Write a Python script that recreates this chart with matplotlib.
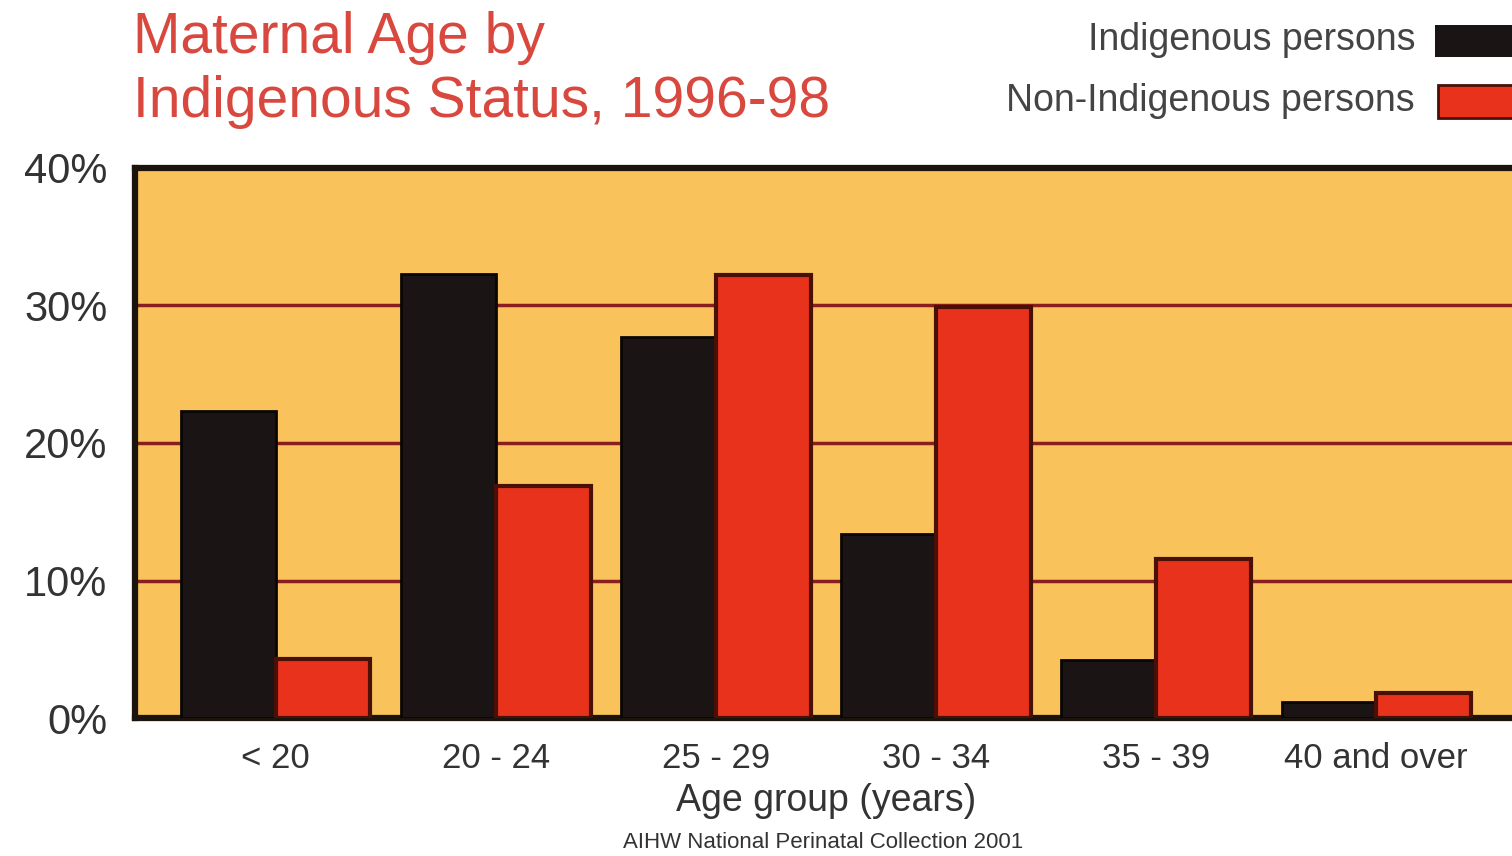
import matplotlib
matplotlib.use("Agg")
import matplotlib.pyplot as plt
import numpy as np
from matplotlib.patches import Rectangle

categories = ["< 20", "20 - 24", "25 - 29", "30 - 34", "35 - 39", "40 and over"]
indigenous = [22.3, 32.3, 27.7, 13.4, 4.2, 1.2]
non_indigenous = [4.3, 16.9, 32.2, 29.9, 11.6, 1.8]
yticks = [0, 10, 20, 30, 40]
ytick_labels = ["0%", "10%", "20%", "30%", "40%"]

plt.rcParams['font.family'] = ['Liberation Sans', 'DejaVu Sans']

fig = plt.figure(figsize=(15.12, 8.56), dpi=100)
ax = fig.add_axes([135/1512, (856-718)/856, 1382/1512, 550/856])
ax.set_facecolor('#F9C25A')

x = np.arange(len(categories))
w = 0.43
for y in [10, 20, 30]:
    ax.axhline(y, color='#8A1E1E', lw=2.5, zorder=1)
ax.bar(x - w/2, indigenous, width=w, color='#1A1414', edgecolor='#0a0606', lw=2, zorder=3)
ax.bar(x + w/2, non_indigenous, width=w, color='#E8321C', edgecolor='#4a1006', lw=3, zorder=3)

ax.set_xlim(-0.64, 5.64)
ax.set_ylim(0, 40)
ax.set_yticks(yticks)
ax.set_yticklabels(ytick_labels, fontsize=30, color='#333333')
ax.set_xticks(x)
ax.set_xticklabels(categories, fontsize=25, color='#333333')
ax.tick_params(axis='both', length=0)
ax.tick_params(axis='x', pad=17)
ax.tick_params(axis='y', pad=20)
for s in ax.spines.values():
    s.set_linewidth(4.5)
    s.set_color('#1a140c')
ax.set_xlabel("Age group (years)", fontsize=27, color='#333333', labelpad=6)

fig.text(133/1512, 1 - 38/856, "Maternal Age by", fontsize=41, color='#D8483F', va='center', ha='left')
fig.text(133/1512, 1 - 102/856, "Indigenous Status, 1996-98", fontsize=41, color='#D8483F', va='center', ha='left')

fig.text(1415/1512, 1 - 40/856, "Indigenous persons", fontsize=27, color='#444444', va='center', ha='right')
fig.text(1415/1512, 1 - 101/856, "Non-Indigenous persons", fontsize=27, color='#444444', va='center', ha='right')
fig.patches.append(Rectangle((1435/1512, 1 - 57/856), 80/1512, 32/856, transform=fig.transFigure,
                             facecolor='#1A1414', edgecolor='none'))
fig.patches.append(Rectangle((1438/1512, 1 - 118/856), 80/1512, 33/856, transform=fig.transFigure,
                             facecolor='#E8321C', edgecolor='#4a1006', lw=2))

fig.text(823/1512, 1 - 843/856, "AIHW National Perinatal Collection 2001", fontsize=16, color='#333333',
         va='center', ha='center')

fig.savefig("out.png", dpi=100, facecolor='white')
